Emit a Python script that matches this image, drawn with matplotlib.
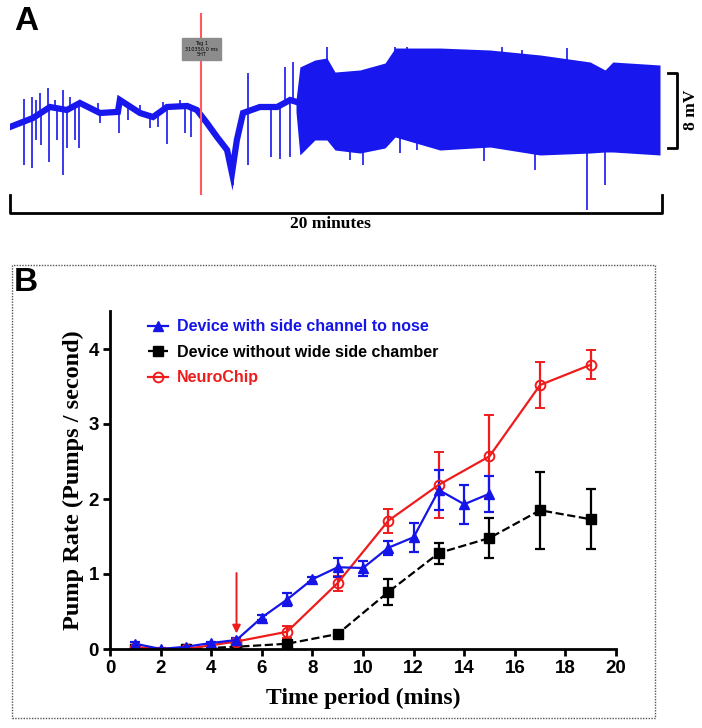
import numpy as np
import matplotlib.pyplot as plt
from matplotlib.patches import Rectangle

# ---------------- panel A : recording trace (minutes, mV) ----------------
base_t = [0.0, 0.71, 1.23, 1.75, 2.15, 2.77, 3.32, 3.38, 4.0, 4.4, 4.83, 5.45, 5.75,
          6.06, 6.37, 6.68, 6.83, 6.98, 7.17, 7.69, 8.22, 8.62, 8.92, 9.23, 10.77,
          11.69, 14.77, 17.85, 20.0]
base_v = [-1.81, -0.85, 0.32, 0.0, 0.75, -0.32, -0.2, 1.07, -0.32, -0.75, 0.32, 0.43, 0.0,
          -1.39, -2.88, -4.27, -6.72, -3.2, -0.32, 0.32, 0.32, 1.07, 0.75, 0.75, 0.85,
          1.39, 1.07, 0.32, 0.32]

burst_t = [8.8, 8.92, 9.38, 9.75, 10.0, 10.77, 11.54, 11.85, 13.23, 14.77, 16.31, 17.85,
           18.31, 18.55, 20.0]
burst_top = [1.07, 4.59, 5.33, 5.55, 4.05, 4.27, 5.01, 6.61, 6.61, 6.4, 5.87, 5.12,
             4.27, 5.12, 4.8]
burst_bot = [-0.21, -4.8, -3.2, -3.2, -4.27, -4.59, -4.05, -2.88, -4.27, -3.95, -4.8, -4.59,
             -4.48, -4.48, -4.8]

spike_down_t = [0.43, 0.68, 1.2, 1.63, 2.12, 3.35, 4.83, 5.57, 6.86, 7.32, 8.03, 8.31,
                8.62, 10.86, 16.15, 17.75, 18.31, 10.46, 12.0, 12.52, 14.58,
                0.8, 0.95, 1.45, 1.75, 2.0, 2.77, 3.63, 4.31, 4.55, 5.38]
spike_down_v = [-5.87, -6.19, -5.55, -6.93, -4.05, -2.45, -3.63, -2.88, -8.0, -5.87, -5.01,
                -5.23, -5.01, -5.87, -6.4, -10.67, -8.0, -5.33, -4.59, -4.27, -5.44,
                -3.2, -3.73, -3.2, -4.05, -3.2, -1.39, -1.07, -1.92, -1.81, -2.45]
spike_up_t = [0.43, 0.68, 1.17, 1.63, 7.32, 8.46, 8.71, 9.75, 11.85, 12.22, 13.29, 15.14,
              15.75, 17.14, 0.8, 0.92, 1.38, 1.85, 2.71, 4.0, 4.71, 5.23]
spike_up_v = [1.17, 1.39, 2.35, 2.13, 4.0, 4.59, 5.12, 6.72, 6.72, 6.72, 6.4, 6.72,
              6.4, 6.61, 1.07, 1.81, 1.07, 1.39, 0.75, 0.53, 0.85, 1.07]

tag_t = 5.88
tag_text = 'Tag 1\n310350.0 ms\n5HT'

# ---------------- panel B : pump rate ----------------
blue_x = [1, 2, 3, 4, 5, 6, 7, 8, 9, 10, 11, 12, 13, 14, 15]
blue_y = [0.07, 0.0, 0.03, 0.08, 0.12, 0.42, 0.66, 0.93, 1.09, 1.08, 1.35, 1.49, 2.12, 1.93, 2.07]
blue_e = [0.02, 0.01, 0.02, 0.02, 0.03, 0.03, 0.09, 0.03, 0.13, 0.1, 0.09, 0.19, 0.27, 0.26, 0.24]

odd_x = [1, 3, 5, 7, 9, 11, 13, 15, 17, 19]
black_y = [0.0, 0.0, 0.03, 0.07, 0.2, 0.76, 1.28, 1.48, 1.85, 1.73]
black_e = [0.0, 0.0, 0.01, 0.02, 0.02, 0.17, 0.14, 0.27, 0.51, 0.40]
red_y = [0.02, 0.0, 0.1, 0.23, 0.88, 1.71, 2.19, 2.57, 3.52, 3.79]
red_e = [0.03, 0.02, 0.03, 0.08, 0.1, 0.16, 0.44, 0.55, 0.31, 0.19]

labels = ['Device with side channel to nose', 'Device without wide side chamber', 'NeuroChip']

W, H = 702, 728
fig = plt.figure(figsize=(W / 100, H / 100), dpi=100)

# panel A
trace = '#1818ee'
ax_a = fig.add_axes([10 / W, 1 - 215 / H, 650 / W, 180 / H])
ax_a.set_xlim(0, 20)
ax_a.set_ylim(-11.2, 8.0)
ax_a.axis('off')

ax_a.plot(base_t, base_v, color=trace, lw=4.5, solid_joinstyle='miter')
ax_a.fill_between(burst_t, burst_bot, burst_top, color=trace, lw=0)
db = np.interp(spike_down_t, base_t, base_v)
ax_a.vlines(spike_down_t, db, spike_down_v, color=trace, lw=1.2)
ub = np.interp(spike_up_t, base_t, base_v)
ax_a.vlines(spike_up_t, ub, spike_up_v, color=trace, lw=1.2)

ax_a.plot([tag_t, tag_t], [-9.0, 10.2], color='#ff5a5a', lw=1.5, clip_on=False)
ax_a.text(tag_t, 6.5, tag_text, fontsize=3.6, ha='center', va='center', color='black',
          bbox=dict(boxstyle='square,pad=0.6', fc='#8c8c8c', ec='#8c8c8c'), zorder=5)

# scale bar
ax_a.plot([20.25, 20.52, 20.52, 20.25], [4.0, 4.0, -4.0, -4.0], color='black', lw=2, clip_on=False)
ax_a.text(20.95, 0, '8 mV', rotation=90, ha='center', va='center',
          fontsize=12.5, fontweight='bold', family='Liberation Serif')
# time bracket
ax_a.plot([0, 0, 20.06, 20.06], [-9.1, -11.0, -11.0, -9.1], color='black', lw=2, clip_on=False)
ax_a.text(9.85, -12.2, '20 minutes', ha='center', va='center',
          fontsize=12.5, fontweight='bold', family='Liberation Serif', clip_on=False)

fig.text(26 / W, 1 - 22 / H, 'A', fontsize=24, fontweight='bold', ha='center', va='center',
         family='Liberation Sans')

# panel B
fig.patches.append(Rectangle((12 / W, 1 - 718 / H), 643 / W, 453 / H, transform=fig.transFigure,
                             fill=False, ec='#555555', lw=1, ls=(0, (1, 1))))
fig.text(26 / W, 1 - 283 / H, 'B', fontsize=24, fontweight='bold', ha='center', va='center',
         family='Liberation Sans')

ax = fig.add_axes([110 / W, 1 - 649 / H, 506 / W, 337.5 / H])
eb_k = ax.errorbar(odd_x, black_y, yerr=black_e, color='black', lw=1.6, ls='--', marker='s',
                   ms=7, capsize=3.8, elinewidth=1.6, capthick=1.6)
eb_r = ax.errorbar(odd_x, red_y, yerr=red_e, color='#ee1c1c', lw=1.6, marker='o', ms=7,
                   mfc='none', mew=1.4, capsize=3.8, elinewidth=1.6, capthick=1.6)
eb_b = ax.errorbar(blue_x, blue_y, yerr=blue_e, color='#1515e8', lw=1.6, marker='^', ms=7,
                   capsize=3.8, elinewidth=1.6, capthick=1.6)

ax.annotate('', xy=(5, 0.17), xytext=(5, 1.05),
            arrowprops=dict(arrowstyle='-|>', color='#ee1c1c', lw=1.4, mutation_scale=12))

ax.set_xlim(0, 20)
ax.set_ylim(0, 4.5)
ax.set_xticks(range(0, 21, 2))
ax.set_yticks(range(0, 5))
for s in ['top', 'right']:
    ax.spines[s].set_visible(False)
for s in ['left', 'bottom']:
    ax.spines[s].set_linewidth(2)
ax.tick_params(width=2, length=5, labelsize=13.5, pad=3)
for lab in ax.get_xticklabels() + ax.get_yticklabels():
    lab.set_fontweight('bold')
    lab.set_family('Liberation Sans')

ax.set_ylabel('Pump Rate (Pumps / second)', fontsize=17.5, fontweight='bold',
              family='Liberation Serif', labelpad=3)
ax.set_xlabel('Time period (mins)', fontsize=17, fontweight='bold',
              family='Liberation Serif', labelpad=8)

leg = ax.legend([eb_b[0], eb_k[0], eb_r[0]], labels, loc='upper left',
                bbox_to_anchor=(0.06, 1.0), frameon=False, handlelength=1.2,
                handletextpad=0.6, labelspacing=0.65, borderpad=0,
                prop={'family': 'Liberation Sans', 'weight': 'bold', 'size': 11.5})
for txt, c in zip(leg.get_texts(), ['#1515e8', 'black', '#ee1c1c']):
    txt.set_color(c)

fig.savefig('out.png', dpi=100)
